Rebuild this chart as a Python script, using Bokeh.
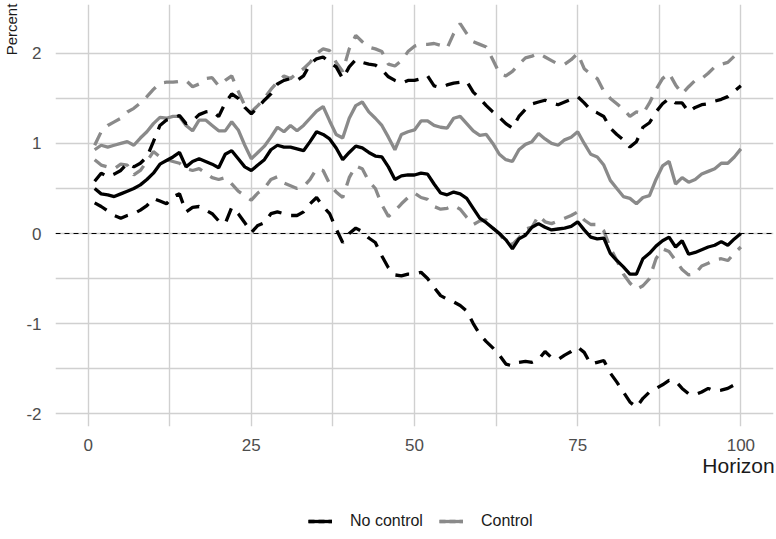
import numpy as np
from bokeh.plotting import figure
from bokeh.layouts import column
from bokeh.models import (Range1d, FixedTicker, Legend, LegendItem, Span,
                          PrintfTickFormatter)
from bokeh.embed import file_html
from bokeh.resources import INLINE

# ---------------- data ----------------
horizon = list(range(1, 101))

nc_mid = [0.50, 0.44, 0.43, 0.41, 0.44, 0.47, 0.50, 0.54, 0.60, 0.67,
          0.77, 0.81, 0.85, 0.90, 0.74, 0.80, 0.83, 0.80, 0.77, 0.73,
          0.88, 0.92, 0.83, 0.74, 0.70, 0.76, 0.82, 0.93, 0.98, 0.96,
          0.96, 0.94, 0.92, 1.02, 1.13, 1.10, 1.05, 0.95, 0.82, 0.90,
          0.97, 0.95, 0.90, 0.86, 0.85, 0.74, 0.60, 0.64, 0.65, 0.65,
          0.67, 0.66, 0.55, 0.45, 0.43, 0.46, 0.44, 0.39, 0.28, 0.17,
          0.12, 0.06, 0.00, -0.07, -0.17, -0.06, -0.02, 0.07, 0.11, 0.07,
          0.04, 0.05, 0.06, 0.08, 0.13, 0.04, -0.04, -0.06, -0.05, -0.22,
          -0.30, -0.37, -0.45, -0.45, -0.28, -0.22, -0.14, -0.08, -0.04, -0.15,
          -0.08, -0.23, -0.21, -0.18, -0.15, -0.13, -0.09, -0.13, -0.06, 0.00]

nc_hi = [0.58, 0.67, 0.63, 0.66, 0.70, 0.78, 0.74, 0.78, 0.85, 1.02,
         1.20, 1.26, 1.28, 1.31, 1.22, 1.25, 1.32, 1.35, 1.36, 1.30,
         1.45, 1.55, 1.50, 1.40, 1.33, 1.40, 1.48, 1.55, 1.66, 1.70,
         1.72, 1.70, 1.75, 1.88, 1.94, 1.96, 1.90, 1.85, 1.72, 1.85,
         1.93, 1.90, 1.88, 1.87, 1.82, 1.74, 1.70, 1.67, 1.70, 1.70,
         1.72, 1.75, 1.64, 1.62, 1.65, 1.67, 1.68, 1.69, 1.57, 1.50,
         1.42, 1.35, 1.29, 1.22, 1.17, 1.30, 1.38, 1.44, 1.46, 1.48,
         1.45, 1.43, 1.46, 1.49, 1.52, 1.45, 1.37, 1.34, 1.30, 1.17,
         1.10, 1.04, 0.96, 1.02, 1.18, 1.23, 1.35, 1.44, 1.50, 1.45,
         1.45, 1.35, 1.40, 1.43, 1.44, 1.47, 1.49, 1.52, 1.58, 1.64]

nc_lo = [0.34, 0.30, 0.25, 0.20, 0.17, 0.20, 0.22, 0.26, 0.31, 0.39,
         0.36, 0.33, 0.41, 0.44, 0.24, 0.29, 0.30, 0.26, 0.22, 0.14,
         0.11, 0.29, 0.22, 0.12, 0.01, 0.09, 0.12, 0.22, 0.24, 0.22,
         0.20, 0.20, 0.24, 0.33, 0.40, 0.30, 0.22, 0.05, -0.10, 0.00,
         0.06, 0.02, -0.05, -0.10, -0.25, -0.38, -0.46, -0.47, -0.45, -0.45,
         -0.43, -0.50, -0.60, -0.69, -0.73, -0.76, -0.80, -0.86, -1.00, -1.12,
         -1.20, -1.27, -1.35, -1.45, -1.47, -1.43, -1.42, -1.43, -1.40, -1.31,
         -1.38, -1.40, -1.35, -1.31, -1.26, -1.32, -1.45, -1.43, -1.41, -1.55,
         -1.65, -1.76, -1.87, -1.93, -1.83, -1.76, -1.72, -1.68, -1.63, -1.64,
         -1.72, -1.78, -1.79, -1.76, -1.72, -1.75, -1.74, -1.72, -1.68, -1.65]

c_mid = [0.93, 0.98, 0.96, 0.98, 1.00, 1.02, 0.98, 1.06, 1.13, 1.22,
         1.29, 1.28, 1.30, 1.30, 1.20, 1.14, 1.26, 1.26, 1.20, 1.14,
         1.14, 1.24, 1.15, 0.98, 0.83, 0.90, 0.97, 1.07, 1.18, 1.13,
         1.20, 1.14, 1.20, 1.28, 1.36, 1.41, 1.25, 1.10, 1.06, 1.28,
         1.42, 1.46, 1.35, 1.28, 1.20, 1.07, 0.93, 1.10, 1.13, 1.15,
         1.25, 1.25, 1.20, 1.18, 1.17, 1.28, 1.30, 1.22, 1.14, 1.09,
         1.10, 1.00, 0.88, 0.82, 0.80, 0.93, 0.99, 1.02, 1.11, 1.05,
         1.00, 0.98, 1.04, 1.07, 1.13, 1.00, 0.88, 0.85, 0.76, 0.59,
         0.50, 0.41, 0.39, 0.33, 0.40, 0.42, 0.60, 0.75, 0.80, 0.55,
         0.62, 0.57, 0.60, 0.66, 0.69, 0.72, 0.78, 0.78, 0.85, 0.94]

c_hi = [0.98, 1.13, 1.20, 1.24, 1.28, 1.35, 1.39, 1.45, 1.52, 1.60,
        1.67, 1.68, 1.68, 1.69, 1.70, 1.63, 1.66, 1.72, 1.73, 1.64,
        1.70, 1.75, 1.58, 1.42, 1.35, 1.42, 1.50, 1.60, 1.68, 1.75,
        1.72, 1.78, 1.83, 1.90, 2.00, 2.05, 2.03, 1.90, 1.80, 2.05,
        2.20, 2.13, 2.07, 2.05, 2.02, 1.88, 1.86, 1.92, 2.02, 2.08,
        2.10, 2.10, 2.11, 2.09, 2.06, 2.22, 2.33, 2.22, 2.13, 2.10,
        2.07, 1.93, 1.78, 1.75, 1.80, 1.88, 1.95, 1.97, 2.00, 1.96,
        1.92, 1.88, 1.88, 1.93, 2.00, 1.83, 1.77, 1.72, 1.58, 1.50,
        1.44, 1.38, 1.30, 1.35, 1.33, 1.45, 1.60, 1.72, 1.78, 1.65,
        1.55, 1.63, 1.70, 1.72, 1.78, 1.85, 1.88, 1.90, 1.97, 2.05]

c_lo = [0.82, 0.76, 0.74, 0.72, 0.77, 0.76, 0.65, 0.70, 0.80, 0.91,
        0.85, 0.82, 0.80, 0.78, 0.72, 0.70, 0.72, 0.67, 0.62, 0.60,
        0.62, 0.55, 0.47, 0.42, 0.37, 0.45, 0.50, 0.60, 0.63, 0.56,
        0.53, 0.50, 0.52, 0.60, 0.72, 0.70, 0.55, 0.46, 0.40, 0.62,
        0.75, 0.72, 0.58, 0.50, 0.32, 0.19, 0.25, 0.33, 0.40, 0.45,
        0.40, 0.38, 0.30, 0.27, 0.28, 0.31, 0.27, 0.18, 0.10, 0.14,
        0.15, 0.06, 0.00, -0.10, -0.12, -0.05, 0.05, 0.07, 0.20, 0.13,
        0.11, 0.14, 0.17, 0.20, 0.24, 0.15, 0.10, 0.10, 0.03, -0.16,
        -0.30, -0.45, -0.55, -0.62, -0.58, -0.50, -0.28, -0.17, -0.20, -0.30,
        -0.40, -0.46, -0.45, -0.36, -0.33, -0.29, -0.28, -0.30, -0.22, -0.15]

series_labels = ["No control", "Control"]
x_title = "Horizon"
y_title = "Percent"
x_ticks = [0, 25, 50, 75, 100]
x_minor = [12.5, 37.5, 62.5, 87.5]
y_ticks = [-2, -1, 0, 1, 2]
y_minor = [-1.5, -0.5, 0.5, 1.5]

# ---------------- styling ----------------
BLACK = "#000000"
GREY = "#8a8a8a"
GRID = "#d0d0d0"
FONT = "Liberation Sans"
LW = 3.3
DASH = "14 10"
NBSP = "\u00a0"

all_vals = np.array(nc_hi + nc_lo + c_hi + c_lo + nc_mid + c_mid)
ymin, ymax = all_vals.min(), all_vals.max()
pad = 0.05 * (ymax - ymin)
y0, y1 = ymin - pad, ymax + pad
x0, x1 = -5, 105

p = figure(width=776, height=479, x_range=Range1d(x0, x1), y_range=Range1d(y0, y1),
           output_backend="svg", toolbar_location=None,
           min_border_left=55, min_border_right=3, min_border_top=4, min_border_bottom=53,
           outline_line_color=None, background_fill_color="white", border_fill_color="white")

p.xaxis.ticker = FixedTicker(ticks=x_ticks, minor_ticks=x_minor)
p.yaxis.ticker = FixedTicker(ticks=y_ticks, minor_ticks=y_minor)
for ax in (p.xaxis[0], p.yaxis[0]):
    ax.formatter = PrintfTickFormatter(format="%d")
    ax.axis_line_color = None
    ax.major_tick_line_color = None
    ax.minor_tick_line_color = None
    ax.major_label_text_font = FONT
    ax.major_label_text_font_size = "17px"
    ax.major_label_text_color = "#4d4d4d"
    ax.axis_label_text_font = FONT
    ax.axis_label_text_font_style = "normal"
    ax.axis_label_text_color = "#1a1a1a"
    try:
        ax.axis_label_align = "end"
    except Exception:
        pass
p.xaxis.major_label_standoff = 6
p.yaxis.major_label_standoff = 8
# the axis label is centred on the axis end; trailing no-break spaces pull the
# visible word back inside the canvas so it ends flush with the panel edge
p.xaxis.axis_label = x_title + NBSP * 12
p.xaxis.axis_label_text_font_size = "21px"
p.xaxis.axis_label_standoff = 0
p.yaxis.axis_label = y_title + NBSP * 12
p.yaxis.axis_label_text_font_size = "15px"
p.yaxis.axis_label_standoff = 3

for g in (p.xgrid[0], p.ygrid[0]):
    g.grid_line_color = GRID
    g.grid_line_width = 1.4
    g.minor_grid_line_color = GRID
    g.minor_grid_line_width = 1.4

# zero line
p.add_layout(Span(location=0, dimension="width", line_color=BLACK,
                  line_width=1, line_dash="5 4"))

# control (grey) first, then no control (black) on top
p.line(horizon, c_mid, line_color=GREY, line_width=LW)
p.line(horizon, c_hi, line_color=GREY, line_width=LW, line_dash=DASH)
p.line(horizon, c_lo, line_color=GREY, line_width=LW, line_dash=DASH)

p.line(horizon, nc_mid, line_color=BLACK, line_width=LW)
p.line(horizon, nc_hi, line_color=BLACK, line_width=LW, line_dash=DASH)
p.line(horizon, nc_lo, line_color=BLACK, line_width=LW, line_dash=DASH)

# ---------------- legend strip ----------------
# legend renderers carry the series but lie outside this strip's (empty) view
leg = figure(width=776, height=60, x_range=Range1d(-3, -2), y_range=Range1d(0, 1),
             output_backend="svg", toolbar_location=None, min_border=0,
             x_axis_type=None, y_axis_type=None, outline_line_color=None,
             background_fill_color="white", border_fill_color="white")
leg.grid.visible = False
k_mid = leg.line(horizon, nc_mid, line_color=BLACK, line_width=LW)
k_hi = leg.line(horizon, nc_hi, line_color=BLACK, line_width=LW, line_dash="6 4")
g_mid = leg.line(horizon, c_mid, line_color=GREY, line_width=LW)
g_hi = leg.line(horizon, c_hi, line_color=GREY, line_width=LW, line_dash="6 4")

legend = Legend(items=[LegendItem(label=series_labels[0], renderers=[k_hi, k_mid]),
                       LegendItem(label=series_labels[1], renderers=[g_hi, g_mid])],
                orientation="horizontal", location=(253, 8),
                glyph_width=24, glyph_height=20, label_standoff=18, spacing=16,
                padding=4, margin=0, border_line_color=None, background_fill_alpha=0,
                label_text_font=FONT, label_text_font_size="16px",
                label_text_color="#1a1a1a")
leg.add_layout(legend, "center")

layout = column(p, leg, spacing=0)
open("out.html", "w").write(file_html(layout, INLINE))
